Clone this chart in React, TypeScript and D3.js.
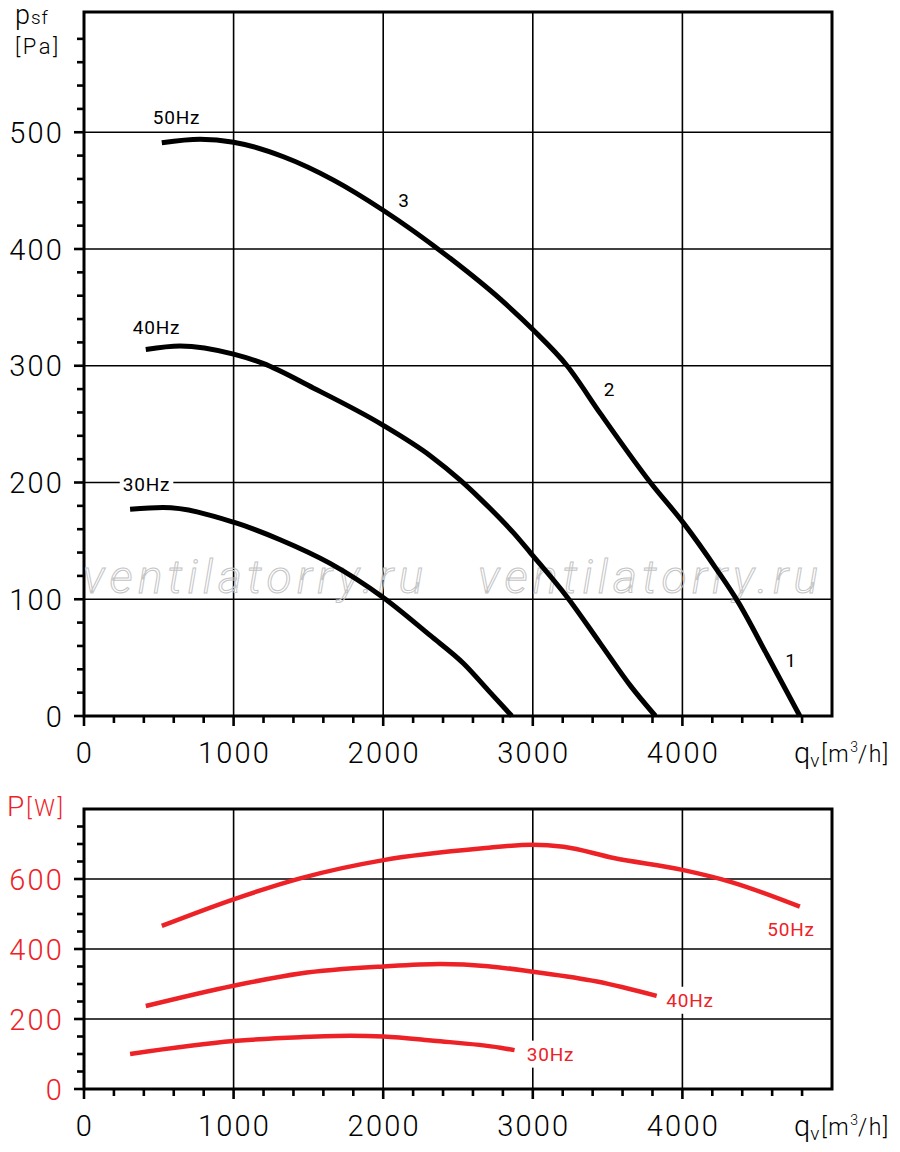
import * as d3 from "d3";
import * as React from "react";

// airflow q [m3/h] vs static pressure p [Pa]
const flowTicks = [0, 1000, 2000, 3000, 4000];
const pressureTicks = [0, 100, 200, 300, 400, 500];
const powerTicks = [0, 200, 400, 600];

const pressure50Hz: [number, number][] = [
  [520, 491], [776, 494], [1000, 491.5], [1333, 479], [1668, 459], [2002, 433],
  [2448, 392], [2783, 357], [3000, 331], [3229, 300], [3452, 259], [3786, 200],
  [4009, 165], [4232, 125], [4366, 99], [4567, 52], [4785, 0],
];
const pressure40Hz: [number, number][] = [
  [413, 314], [642, 317], [1000, 310], [1197, 302], [1532, 281], [2000, 249],
  [2314, 223], [2515, 202], [2649, 186], [2870, 157], [2983, 140], [3229, 102],
  [3452, 62], [3652, 26], [3820, 0],
];
const pressure30Hz: [number, number][] = [
  [308, 177], [528, 178.5], [1000, 166], [1311, 151], [1645, 130.7], [2002, 101.3],
  [2314, 69], [2537, 45], [2716, 20], [2860, 0],
];

// airflow q [m3/h] vs power P [W]
const power50Hz: [number, number][] = [
  [520, 466], [1000, 542], [1445, 602], [2002, 654], [2649, 687], [3000, 698],
  [3206, 692], [3541, 660], [4000, 626], [4321, 592], [4785, 521],
];
const power40Hz: [number, number][] = [
  [413, 237], [1000, 295], [1445, 330], [2002, 350], [2381, 357], [2700, 351],
  [3000, 335], [3429, 307], [3828, 266],
];
const power30Hz: [number, number][] = [
  [308, 100], [1000, 137], [1445, 148], [1779, 152], [2002, 150], [2336, 138],
  [2783, 118], [2878, 111],
];

// label anchors in data units
const pressureLabels = [
  { text: "50Hz", q: 618, v: 507, box: false },
  { text: "40Hz", q: 485, v: 327, box: true },
  { text: "30Hz", q: 418, v: 193, box: true },
  { text: "3", q: 2139, v: 436, box: false },
  { text: "2", q: 3513, v: 274, box: false },
  { text: "1", q: 4726, v: 42, box: false },
];
const powerLabels = [
  { text: "50Hz", q: 4726, v: 437, box: true },
  { text: "40Hz", q: 4051, v: 235, box: true },
  { text: "30Hz", q: 3118, v: 81, box: true },
];

const RED = "#ed2227";
const FONT = "Roboto, 'DejaVu Sans', sans-serif";

type Sel = d3.Selection<SVGGElement, unknown, null, undefined>;

function drawPanel(
  g: Sel,
  x: d3.ScaleLinear<number, number>,
  y: d3.ScaleLinear<number, number>,
  majorY: number[],
  minorY: number[],
  labelColor: string
) {
  const [x0, x1] = x.range();
  const [yb, yt] = y.range();

  // grid
  g.append("g")
    .selectAll("line")
    .data(flowTicks.filter((d) => d > 0))
    .join("line")
    .attr("x1", (d) => x(d))
    .attr("x2", (d) => x(d))
    .attr("y1", yt)
    .attr("y2", yb)
    .attr("stroke", "#000")
    .attr("stroke-width", 1.6);
  g.append("g")
    .selectAll("line")
    .data(majorY.filter((d) => d > 0))
    .join("line")
    .attr("x1", x0)
    .attr("x2", x1)
    .attr("y1", (d) => y(d))
    .attr("y2", (d) => y(d))
    .attr("stroke", "#000")
    .attr("stroke-width", 1.6);

  // minor + major ticks
  const ticks = g.append("g").attr("stroke", "#000").attr("stroke-width", 2.6);
  ticks
    .selectAll(".ym")
    .data(minorY)
    .join("line")
    .attr("x1", x0 - 7)
    .attr("x2", x0)
    .attr("y1", (d) => y(d))
    .attr("y2", (d) => y(d));
  ticks
    .selectAll(".yM")
    .data(majorY)
    .join("line")
    .attr("x1", x0 - 10)
    .attr("x2", x0)
    .attr("y1", (d) => y(d))
    .attr("y2", (d) => y(d));
  const minorX = d3.range(0, 4801, 200).filter((d) => d % 1000 !== 0);
  ticks
    .selectAll(".xm")
    .data(minorX)
    .join("line")
    .attr("x1", (d) => x(d))
    .attr("x2", (d) => x(d))
    .attr("y1", yb)
    .attr("y2", yb + 7);
  ticks
    .selectAll(".xM")
    .data(flowTicks)
    .join("line")
    .attr("x1", (d) => x(d))
    .attr("x2", (d) => x(d))
    .attr("y1", yb)
    .attr("y2", yb + 10);

  // frame
  g.append("rect")
    .attr("x", x0)
    .attr("y", yt)
    .attr("width", x1 - x0)
    .attr("height", yb - yt)
    .attr("fill", "none")
    .attr("stroke", "#000")
    .attr("stroke-width", 3);

  // tick labels
  g.append("g")
    .selectAll("text")
    .data(majorY)
    .join("text")
    .attr("x", x0 - 20)
    .attr("y", (d) => y(d) + 10.5)
    .attr("text-anchor", "end")
    .attr("font-family", FONT)
    .attr("font-size", 29)
    .attr("font-weight", 300)
    .attr("letter-spacing", 2.2)
    .attr("fill", labelColor)
    .text((d) => String(d));
  g.append("g")
    .selectAll("text")
    .data(flowTicks)
    .join("text")
    .attr("x", (d) => x(d) + 1)
    .attr("y", yb + 47)
    .attr("text-anchor", "middle")
    .attr("font-family", FONT)
    .attr("font-size", 29)
    .attr("font-weight", 300)
    .attr("letter-spacing", 2.2)
    .attr("fill", "#000")
    .text((d) => String(d));

  // x axis title
  const xt = g
    .append("text")
    .attr("x", 794)
    .attr("y", yb + 47)
    .attr("font-family", FONT)
    .attr("font-weight", 300)
    .attr("fill", "#000");
  xt.append("tspan").attr("font-size", 29).text("q");
  xt.append("tspan").attr("font-size", 19).attr("dy", 4).text("v");
  xt.append("tspan").attr("font-size", 23).attr("dy", -5).attr("dx", 2).attr("letter-spacing", 1.5).text("[m");
  xt.append("tspan").attr("font-size", 14).attr("dy", -10).text("3");
  xt.append("tspan").attr("font-size", 23).attr("dy", 10).attr("letter-spacing", 1.5).text("/h]");
}

function drawLabels(
  g: Sel,
  x: d3.ScaleLinear<number, number>,
  y: d3.ScaleLinear<number, number>,
  labels: { text: string; q: number; v: number; box: boolean }[],
  color: string
) {
  labels.forEach((l) => {
    const holder = g.append("g");
    const t = holder
      .append("text")
      .attr("x", x(l.q))
      .attr("y", y(l.v))
      .attr("text-anchor", "middle")
      .attr("font-family", FONT)
      .attr("font-size", 19)
      .attr("letter-spacing", 0.8)
      .attr("fill", color)
      .text(l.text);
    if (l.box) {
      const b = (t.node() as SVGTextElement).getBBox();
      holder
        .insert("rect", "text")
        .attr("x", b.x - 3)
        .attr("y", b.y - 2)
        .attr("width", b.width + 6)
        .attr("height", b.height + 4)
        .attr("fill", "#fff");
    }
  });
}

function drawChart(el: SVGSVGElement) {
  const svg = d3.select(el);
  svg.selectAll("*").remove();

  const x = d3.scaleLinear().domain([0, 5000]).range([84, 832]);
  const yP = d3.scaleLinear().domain([0, 603]).range([716, 12]);
  const yW = d3.scaleLinear().domain([0, 800]).range([1089, 809]);

  svg.append("rect").attr("width", 900).attr("height", 1152).attr("fill", "#fff");

  // ---- pressure panel
  const top = svg.append("g") as unknown as Sel;
  drawPanel(
    top,
    x,
    yP,
    pressureTicks,
    d3.range(0, 581, 20).filter((d) => d % 100 !== 0),
    "#000"
  );

  // watermark
  [83, 478].forEach((wx) => {
    top
      .append("text")
      .attr("x", wx)
      .attr("y", 593)
      .attr("font-family", FONT)
      .attr("font-style", "italic")
      .attr("font-weight", 300)
      .attr("font-size", 46)
      .attr("textLength", 340)
      .attr("lengthAdjust", "spacing")
      .attr("fill", "none")
      .attr("stroke", "#c4c4c4")
      .attr("stroke-width", 1)
      .text("ventilatorry.ru");
  });

  const lineP = d3
    .line<[number, number]>()
    .x((d) => x(d[0]))
    .y((d) => yP(d[1]))
    .curve(d3.curveMonotoneX);
  top
    .append("g")
    .selectAll("path")
    .data([pressure50Hz, pressure40Hz, pressure30Hz])
    .join("path")
    .attr("d", (d) => lineP(d))
    .attr("fill", "none")
    .attr("stroke", "#000")
    .attr("stroke-width", 5);
  drawLabels(top, x, yP, pressureLabels, "#000");

  // y title
  const pt = top
    .append("text")
    .attr("x", 15)
    .attr("y", 24)
    .attr("font-family", FONT)
    .attr("font-weight", 300)
    .attr("fill", "#000");
  pt.append("tspan").attr("font-size", 27).text("p");
  pt.append("tspan").attr("font-size", 19).attr("dx", 1).attr("letter-spacing", 1).text("sf");
  top
    .append("text")
    .attr("x", 15)
    .attr("y", 54)
    .attr("font-family", FONT)
    .attr("font-weight", 300)
    .attr("font-size", 22)
    .attr("letter-spacing", 2.5)
    .attr("fill", "#000")
    .text("[Pa]");

  // ---- power panel
  const bottom = svg.append("g") as unknown as Sel;
  drawPanel(
    bottom,
    x,
    yW,
    powerTicks,
    d3.range(0, 751, 50).filter((d) => d % 200 !== 0),
    RED
  );
  const lineW = d3
    .line<[number, number]>()
    .x((d) => x(d[0]))
    .y((d) => yW(d[1]))
    .curve(d3.curveMonotoneX);
  bottom
    .append("g")
    .selectAll("path")
    .data([power50Hz, power40Hz, power30Hz])
    .join("path")
    .attr("d", (d) => lineW(d))
    .attr("fill", "none")
    .attr("stroke", RED)
    .attr("stroke-width", 4.5);
  drawLabels(bottom, x, yW, powerLabels, RED);

  const wt = bottom
    .append("text")
    .attr("x", 7)
    .attr("y", 816)
    .attr("font-family", FONT)
    .attr("font-weight", 300)
    .attr("fill", RED);
  wt.append("tspan").attr("font-size", 28).text("P");
  wt.append("tspan").attr("font-size", 23).attr("dx", 2).attr("letter-spacing", 2.5).text("[W]");
}

export default function App() {
  const ref = React.useRef<SVGSVGElement>(null);
  React.useEffect(() => {
    if (ref.current) drawChart(ref.current);
  }, []);
  return (
    <svg
      ref={ref}
      width={900}
      height={1152}
      style={{ position: "absolute", left: 0, top: 0, display: "block" }}
    />
  );
}
